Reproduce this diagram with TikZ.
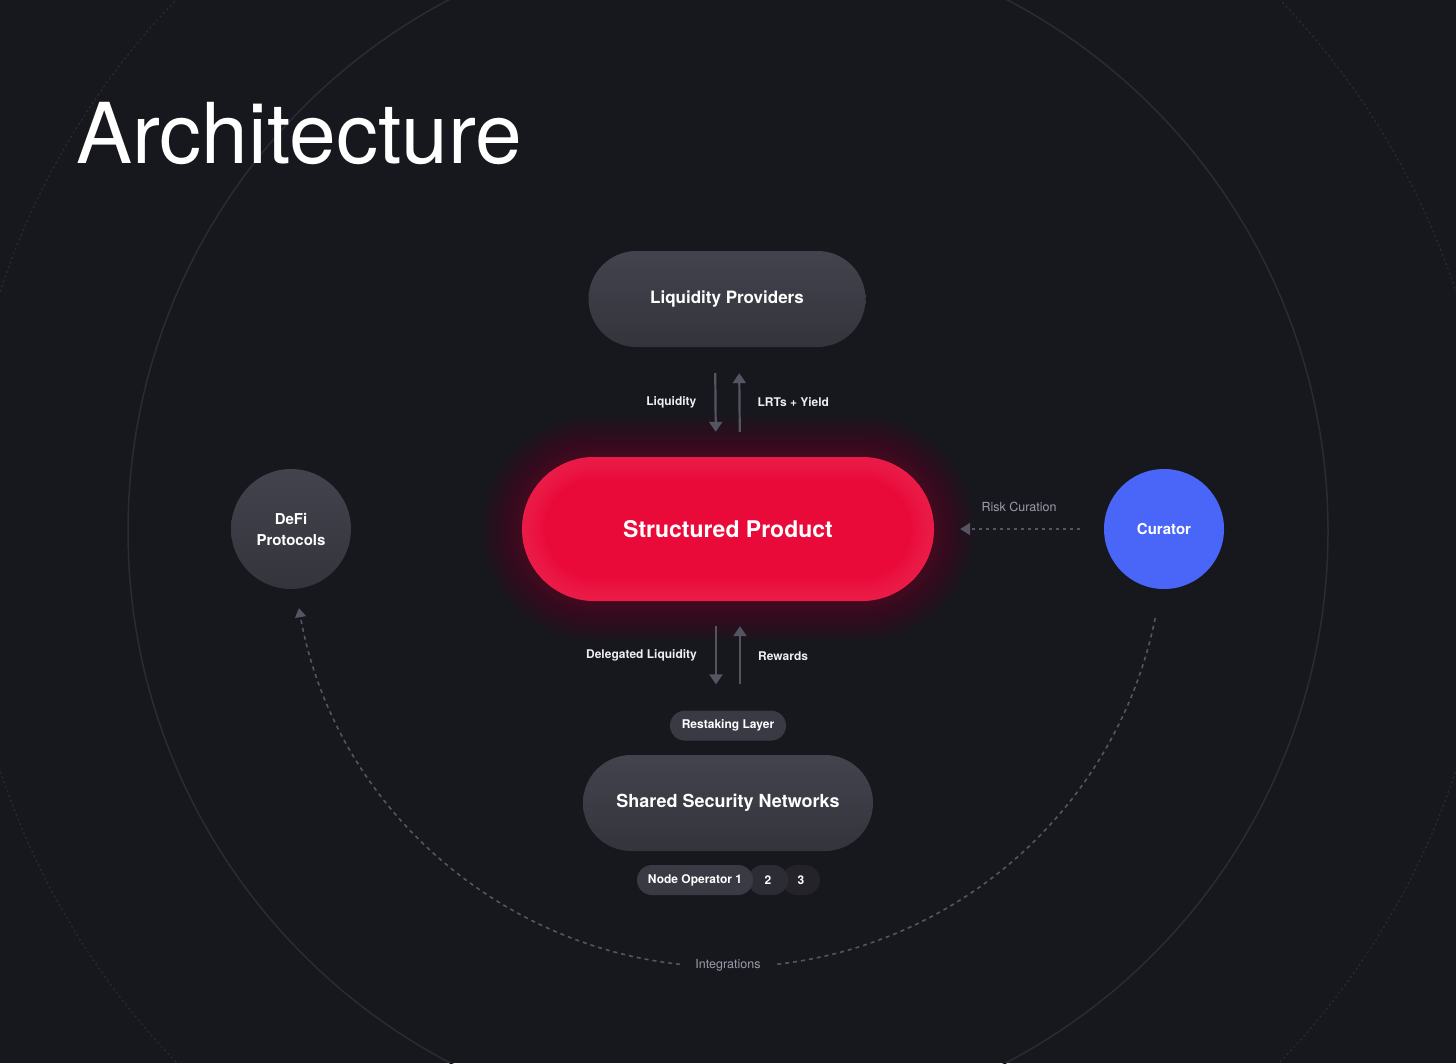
\documentclass[tikz,border=0pt]{standalone}
\usepackage{fontspec}
\setmainfont{TeX Gyre Heros}
\usetikzlibrary{positioning, calc, shapes.misc, arrows.meta}

\definecolor{bgdark}{HTML}{17181E}
\definecolor{ringgray}{HTML}{2A2B33}
\definecolor{pillgray}{HTML}{3A3A44}
\definecolor{pilltop}{HTML}{43434D}
\definecolor{pillbot}{HTML}{34343D}
\definecolor{opmid}{HTML}{2C2C34}
\definecolor{opdeep}{HTML}{232329}
\definecolor{prodred}{HTML}{EA0A3A}
\definecolor{prodpink}{HTML}{F7557D}
\definecolor{curblue}{HTML}{4A66F8}
\definecolor{arrowgray}{HTML}{555562}
\definecolor{softtext}{HTML}{9C9CAA}
\definecolor{labeltext}{HTML}{EDEDF2}

\tikzset{
  pill/.style={rounded rectangle, inner sep=0pt, top color=pilltop, bottom color=pillbot, text=white, font=\bfseries\fontsize{17}{20}\selectfont},
  smallpill/.style={rounded rectangle, inner sep=0pt, minimum height=30pt, fill=pillgray, text=white, font=\bfseries\fontsize{12}{14}\selectfont},
  orb/.style={circle, inner sep=0pt, minimum size=120pt, align=center, text=white, font=\bfseries\fontsize{15}{21}\selectfont},
  flow/.style={draw=arrowgray, line width=2.2pt, -{Triangle[length=10pt, width=13pt]}},
  dotflow/.style={draw=arrowgray, line width=2pt, dash pattern=on 3pt off 4pt, -{Triangle[length=10pt, width=12pt]}},
  intarc/.style={draw=arrowgray, line width=1.6pt, dash pattern=on 4pt off 4pt},
  flowlabel/.style={inner sep=0pt, text=labeltext, font=\bfseries\fontsize{12}{14}\selectfont},
  softlabel/.style={inner sep=0pt, text=softtext, font=\fontsize{12.5}{14}\selectfont},
}

\begin{document}
\begin{tikzpicture}[x=1pt, y=-1pt]
    \useasboundingbox (0,0) rectangle (1456,1063);
    \fill[bgdark] (0,0) rectangle (1456,1063);
    \clip (0,0) rectangle (1456,1063);

    % background rings
    \coordinate (ctr) at (728,531);
    \draw[ringgray, line width=1.5pt] (ctr) circle[radius=600];
    \draw[ringgray, line width=1.2pt, dash pattern=on 2pt off 3pt] (ctr) circle[radius=766];

    \node[anchor=base west, inner sep=0pt, text=white, font=\fontsize{84}{90}\selectfont] (title) at (76,163) {Architecture};

    % glow round the product
    \coordinate (spc) at (728,529);
    \foreach \g in {42,40,...,2}
        \node[rounded rectangle, inner sep=0pt, minimum width={412+2*\g}, minimum height={144+2*\g}, fill=prodred, opacity=0.012] at (spc) {};

    \node[rounded rectangle, inner sep=0pt, minimum width=412pt, minimum height=144pt, fill=prodred] (sp) at (spc) {};
    \begin{scope}
        \clip[rounded corners=72pt] (522,457) rectangle (934,601);
        \foreach \w in {44,40,...,4}
            \draw[prodpink, line width=\w pt, opacity=0.03, rounded corners=72pt] (522,457) rectangle (934,601);
    \end{scope}
    \node[text=white, font=\bfseries\fontsize{23}{26}\selectfont] at (sp.center) {Structured Product};

    \node[pill, minimum width=277pt, minimum height=96pt] (lp) at (727,299) {Liquidity Providers};
    \node[pill, minimum width=290pt, minimum height=96pt, font=\bfseries\fontsize{18}{20}\selectfont] (ssn) at (728,803) {Shared Security Networks};
    \node[smallpill, minimum width=116pt, above=14pt of ssn] (rl) {Restaking Layer};

    % operators, back to front
    \node[smallpill, minimum width=38pt, fill=opdeep] (op3) at (801,880) {3};
    \node[smallpill, minimum width=40pt, fill=opmid] (op2) at (768,880) {2};
    \node[smallpill, minimum width=116pt] (op1) at (695,880) {Node Operator 1};

    \node[orb, top color=pilltop, bottom color=pillbot] (defi) at (291,529) {DeFi\\Protocols};
    \node[orb, fill=curblue] (cur) at (1164,529) {Curator};

    % flows
    \draw[flow, shorten <=26pt, shorten >=25pt] ([xshift=-12pt]lp.south) -- ([xshift=-12pt]sp.north) node[flowlabel, midway, left=18pt] {Liquidity};
    \draw[flow, shorten <=25pt, shorten >=26pt] ([xshift=12pt]sp.north) -- ([xshift=12pt]lp.south) node[flowlabel, midway, right=17pt] {LRTs + Yield};
    \draw[flow, shorten <=25pt, shorten >=26pt] ([xshift=-12pt]sp.south) -- ([xshift=-12pt]rl.north) node[flowlabel, midway, left=18pt] {Delegated Liquidity};
    \draw[flow, shorten <=26pt, shorten >=25pt] ([xshift=12pt]rl.north) -- ([xshift=12pt]sp.south) node[flowlabel, midway, right=17pt] {Rewards};

    \draw[dotflow, shorten <=24pt, shorten >=26pt] (cur.west) -- (sp.east) node[softlabel, midway, above=16pt] {Risk Curation};

    % integrations arc
    \coordinate (intR) at ($(ctr)+(11.5:436)$);
    \coordinate (intL) at ($(ctr)+(96.3:436)$);
    \draw[intarc] (intR) arc[start angle=11.5, end angle=83.7, radius=436];
    \draw[intarc, -{Triangle[length=9pt, width=11pt]}] (intL) arc[start angle=96.3, end angle=169.8, radius=436];
    \node[softlabel] (intg) at ($(ctr)+(90:434)$) {Integrations};

\end{tikzpicture}
\end{document}
